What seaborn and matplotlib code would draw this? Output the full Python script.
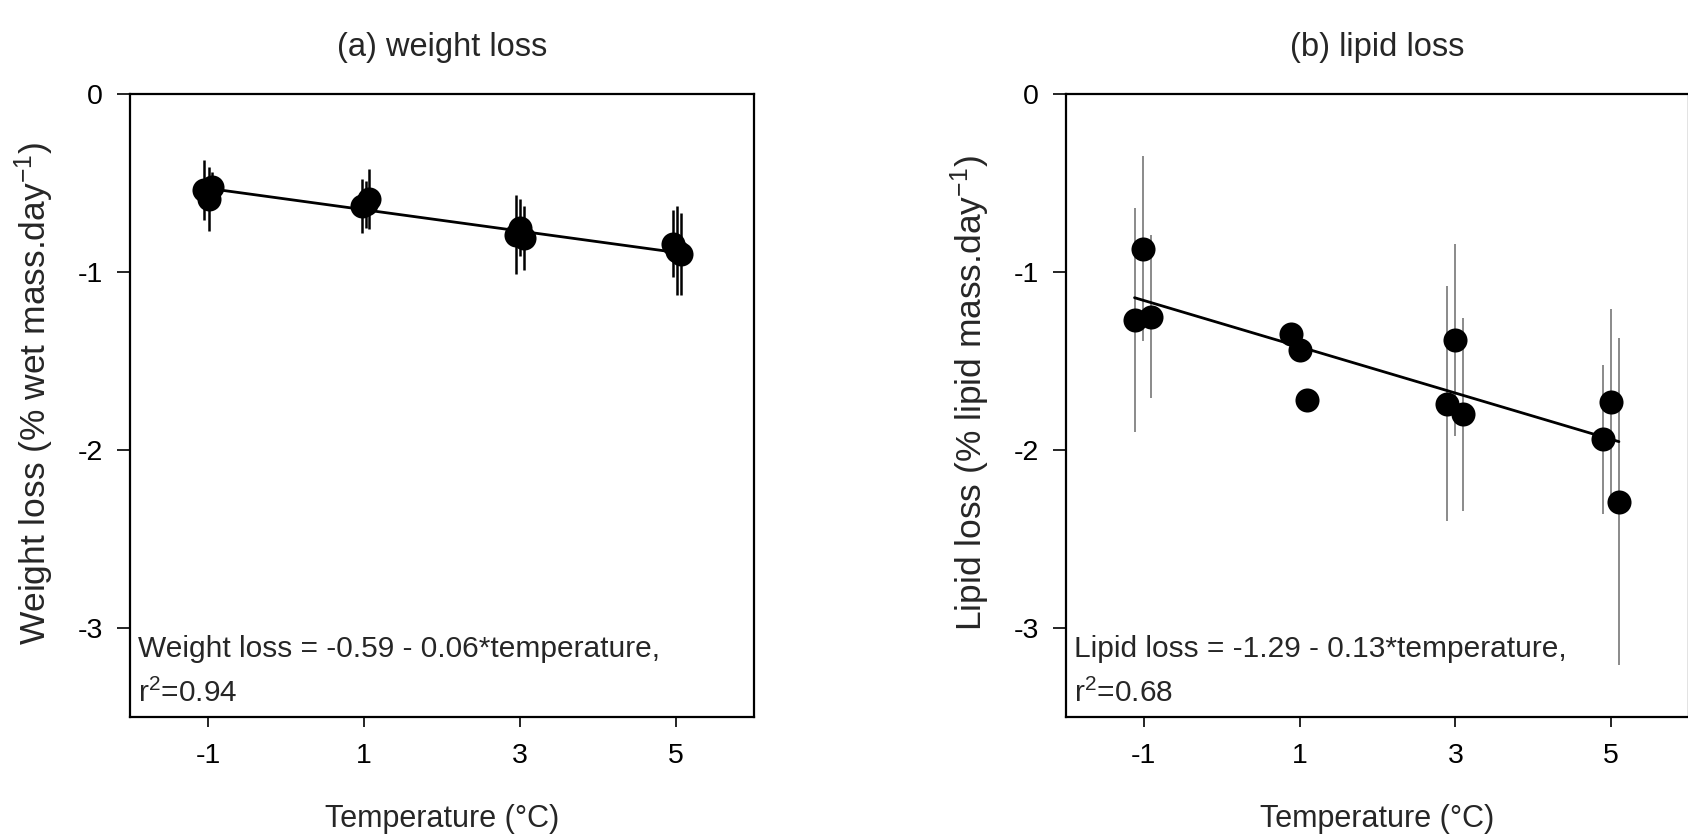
import numpy as np
import pandas as pd
import matplotlib
matplotlib.use("Agg")
import matplotlib.pyplot as plt
import seaborn as sns

# Panel (a): weight loss per replicate tank
wt_temp = [-1.05, -0.95, -0.99, 0.97, 1.07, 1.02, 2.95, 3.00, 3.05, 4.96, 5.01, 5.06]
wt_loss = [-0.54, -0.52, -0.59, -0.63, -0.59, -0.62, -0.79, -0.75, -0.81, -0.84, -0.88, -0.90]
wt_sd = [0.17, 0.08, 0.18, 0.15, 0.17, 0.13, 0.22, 0.16, 0.18, 0.19, 0.25, 0.23]
wt_coef = (-0.59, -0.06)
wt_r2 = 0.94

# Panel (b): lipid loss per replicate tank
lip_temp = [-1.12, -1.01, -0.91, 0.89, 1.00, 1.09, 2.89, 3.00, 3.10, 4.90, 5.00, 5.10]
lip_loss = [-1.27, -0.87, -1.25, -1.35, -1.44, -1.72, -1.74, -1.38, -1.80, -1.94, -1.73, -2.29]
lip_sd = [0.63, 0.52, 0.46, 0.0, 0.0, 0.0, 0.66, 0.54, 0.54, 0.42, 0.52, 0.92]
lip_coef = (-1.29, -0.13)
lip_r2 = 0.68

x_ticks = [-1, 1, 3, 5]
y_ticks = [0, -1, -2, -3]

sns.set_theme(style="ticks")
plt.rcParams["font.family"] = ["Liberation Sans", "DejaVu Sans"]
plt.rcParams["mathtext.fontset"] = "custom"
plt.rcParams["mathtext.rm"] = "Liberation Sans"
plt.rcParams["mathtext.it"] = "Liberation Sans"
plt.rcParams["axes.unicode_minus"] = False

W, H = 1688, 839
fig = plt.figure(figsize=(W / 100, H / 100), dpi=100)
fig.patch.set_facecolor("white")


def px_axes(left, top, right, bottom):
    return fig.add_axes([left / W, 1 - bottom / H, (right - left) / W, (bottom - top) / H])


ax_a = px_axes(130, 94, 754, 717)
ax_b = px_axes(1066, 94, 1689, 717)

panels = [
    (ax_a, wt_temp, wt_loss, wt_sd, wt_coef, wt_r2, "(a) weight loss",
     "Weight loss (% wet mass.day$^{\\mathregular{-1}}$)", "Weight loss", "black", 1.8),
    (ax_b, lip_temp, lip_loss, lip_sd, lip_coef, lip_r2, "(b) lipid loss",
     "Lipid loss (% lipid mass.day$^{\\mathregular{-1}}$)", "Lipid loss", "#8a8a8a", 1.4),
]

for ax, temp, loss, sd, coef, r2, title, ylab, name, ecol, elw in panels:
    df = pd.DataFrame({"temp": temp, "loss": loss, "sd": sd})
    ax.errorbar(df["temp"], df["loss"], yerr=df["sd"], fmt="none",
                ecolor=ecol, elinewidth=elw, capsize=0, zorder=1)
    xs = np.array([df["temp"].min(), df["temp"].max()])
    fit = pd.DataFrame({"temp": xs, "loss": coef[0] + coef[1] * xs})
    sns.lineplot(data=fit, x="temp", y="loss", ax=ax, color="black", lw=2, zorder=2)
    sns.scatterplot(data=df, x="temp", y="loss", ax=ax, color="black", s=300,
                    edgecolor="black", linewidth=0, zorder=3)

    ax.set_xlim(-2, 6)
    ax.set_ylim(-3.5, 0)
    ax.set_xticks(x_ticks)
    ax.set_xticklabels([str(v) for v in x_ticks])
    ax.set_yticks(y_ticks)
    ax.set_yticklabels([str(v) for v in y_ticks])
    ax.tick_params(axis="both", labelsize=20.5, colors="black", width=1.2,
                   direction="out")
    ax.tick_params(axis="y", length=9.5, pad=10)
    ax.tick_params(axis="x", length=7, pad=12)
    for side in ["top", "right", "bottom", "left"]:
        ax.spines[side].set_visible(True)
        ax.spines[side].set_color("black")
        ax.spines[side].set_linewidth(1.6)

    ax.set_xlabel("Temperature (°C)", fontsize=22)
    ax.set_ylabel(ylab, fontsize=25.5)
    ax.xaxis.label.set_va("center")
    ax.xaxis.set_label_coords(0.5, -0.163)
    ax.yaxis.set_label_coords(-0.118, 0.52)

    ax.text(0.5, 1.0754, title, transform=ax.transAxes, ha="center", va="center",
            fontsize=23.5)

    sign = "-" if coef[1] < 0 else "+"
    ax.text(0.013, 0.096,
            f"{name} = {coef[0]:.2f} {sign} {abs(coef[1]):.2f}*temperature,",
            transform=ax.transAxes, ha="left", va="baseline", fontsize=21.5)
    ax.text(0.013, 0.024, f"r$^{{\\mathregular{{2}}}}$={r2:.2f}",
            transform=ax.transAxes, ha="left", va="baseline", fontsize=21.5)

fig.savefig("out.png", dpi=100, facecolor="white")
